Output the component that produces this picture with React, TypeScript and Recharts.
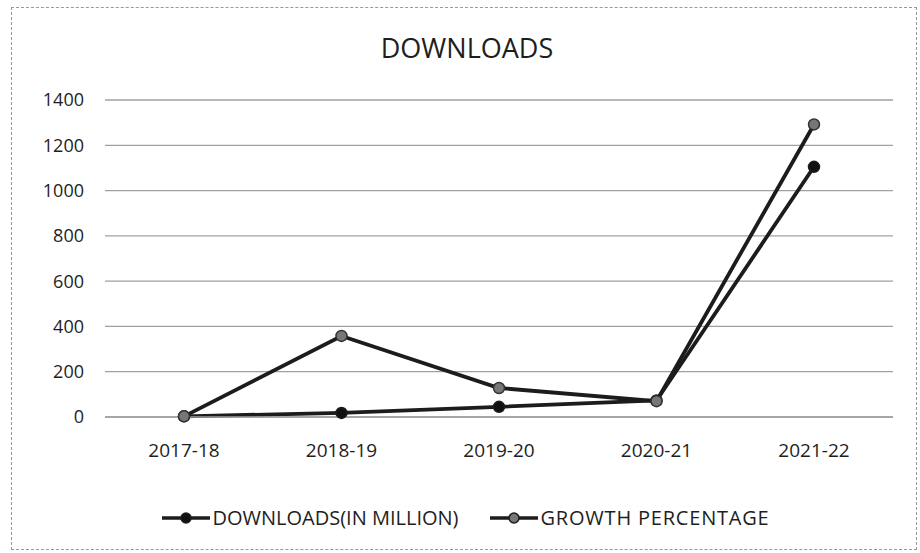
import React from "react";
import { LineChart, Line, XAxis, YAxis, CartesianGrid, Legend } from "recharts";

const categories = ["2017-18", "2018-19", "2019-20", "2020-21", "2021-22"];
const downloads = [3, 18, 45, 73, 1105];
const growth = [3, 358, 128, 70, 1292];
const yTicks = [0, 200, 400, 600, 800, 1000, 1200, 1400];
const seriesNames = ["DOWNLOADS(IN MILLION)", "GROWTH PERCENTAGE"];

const data = categories.map((c, i) => ({ cat: c, downloads: downloads[i], growth: growth[i] }));

const FONT = "'Open Sans', 'Liberation Sans', sans-serif";
const LINE = "#1c1c1c";

const LegendIcon = ({ fill }: { fill: string }) => (
  <svg width={48} height={14} style={{ display: "block" }}>
    <line x1={0} y1={7} x2={48} y2={7} stroke={LINE} strokeWidth={3.5} />
    <circle cx={24} cy={7} r={5} fill={fill} stroke={LINE} strokeWidth={1.5} />
  </svg>
);

const renderLegend = () => (
  <div
    style={{
      display: "flex",
      justifyContent: "center",
      alignItems: "center",
      fontFamily: FONT,
      fontSize: 20,
      color: "#1e1e1e",
      gap: 32,
      paddingLeft: 12,
    }}
  >
    <div style={{ display: "flex", alignItems: "center", gap: 2 }}>
      <LegendIcon fill="#111" />
      <span>{seriesNames[0]}</span>
    </div>
    <div style={{ display: "flex", alignItems: "center", gap: 2 }}>
      <LegendIcon fill="#777" />
      <span style={{ letterSpacing: 0.8 }}>{seriesNames[1]}</span>
    </div>
  </div>
);

export default function App() {
  return (
    <div
      style={{
        position: "absolute",
        left: 0,
        top: 0,
        width: 920,
        height: 553,
        background: "#fff",
        overflow: "hidden",
      }}
    >
      <div
        style={{
          position: "absolute",
          left: 11,
          top: 7,
          width: 906,
          height: 543,
          border: "1.5px dashed #999",
          boxSizing: "border-box",
        }}
      />
      <div
        style={{
          position: "absolute",
          left: 0,
          top: 29,
          width: 934,
          textAlign: "center",
          fontFamily: FONT,
          fontSize: 27,
          color: "#1e1e1e",
          lineHeight: "38px",
        }}
      >
        DOWNLOADS
      </div>
      <div style={{ position: "absolute", left: 0, top: 0 }}>
        <LineChart
          width={920}
          height={553}
          data={data}
          margin={{ top: 100, right: 27, left: 0, bottom: 96 }}
        >
          <CartesianGrid vertical={false} stroke="#a0a0a0" strokeWidth={1.3} />
          <XAxis
            dataKey="cat"
            height={40}
            padding={{ left: 79, right: 79 }}
            axisLine={{ stroke: "#a0a0a0", strokeWidth: 1.3 }}
            tickLine={false}
            tickSize={0}
            tickMargin={27}
            tick={{ fill: "#1e1e1e", fontSize: 19, fontFamily: FONT }}
          />
          <YAxis
            width={105}
            domain={[0, 1400]}
            ticks={yTicks}
            axisLine={false}
            tickLine={false}
            tickSize={0}
            tickMargin={21}
            tick={{ fill: "#1e1e1e", fontSize: 18, fontFamily: FONT }}
          />
          <Legend
            verticalAlign="middle"
            align="center"
            layout="horizontal"
            content={renderLegend}
            wrapperStyle={{ top: 504, left: 0, width: 920 }}
          />
          <Line
            type="linear"
            dataKey="downloads"
            name={seriesNames[0]}
            stroke={LINE}
            strokeWidth={3.8}
            dot={{ r: 5.5, fill: "#111", stroke: LINE, strokeWidth: 1.5 }}
            isAnimationActive={false}
          />
          <Line
            type="linear"
            dataKey="growth"
            name={seriesNames[1]}
            stroke={LINE}
            strokeWidth={3.8}
            dot={{ r: 5.5, fill: "#777", stroke: "#333", strokeWidth: 1.5 }}
            isAnimationActive={false}
          />
        </LineChart>
      </div>
    </div>
  );
}
